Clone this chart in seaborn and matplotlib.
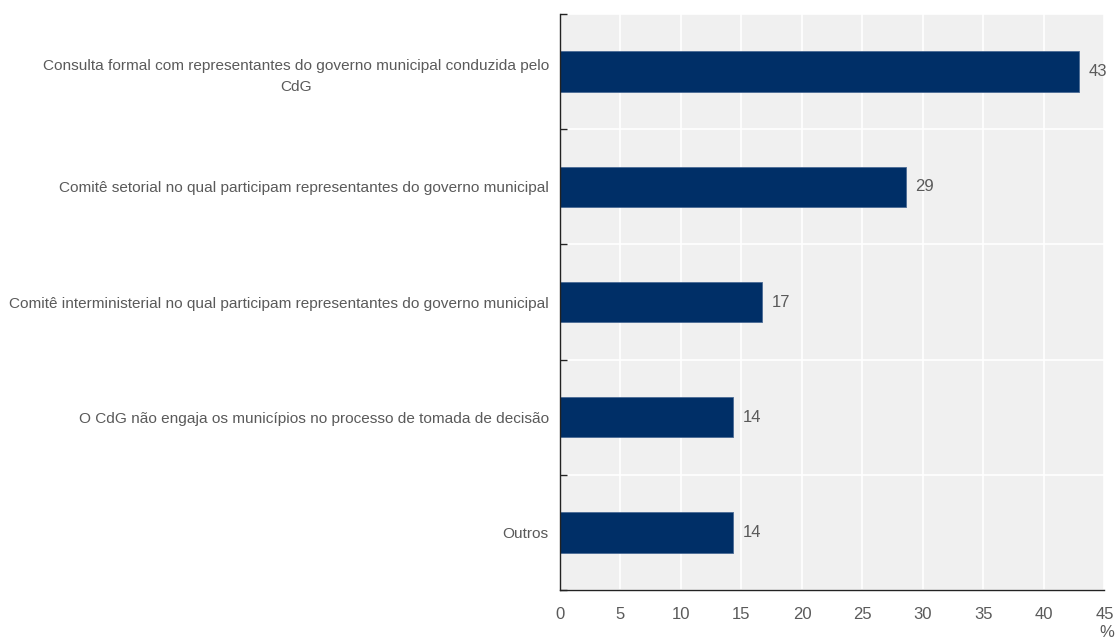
import matplotlib
matplotlib.use("Agg")
import matplotlib.pyplot as plt
from matplotlib.ticker import FixedLocator
import seaborn as sns
import pandas as pd

categories = [
    "Consulta formal com representantes do governo municipal conduzida pelo\nCdG",
    "Comitê setorial no qual participam representantes do governo municipal",
    "Comitê interministerial no qual participam representantes do governo municipal",
    "O CdG não engaja os municípios no processo de tomada de decisão",
    "Outros",
]
values = [42.86, 28.57, 16.67, 14.29, 14.29]
x_ticks = [0, 5, 10, 15, 20, 25, 30, 35, 40, 45]

df = pd.DataFrame({"categoria": categories, "valor": values})

sns.set_theme(style="white")
plt.rcParams["font.family"] = ["Liberation Sans Narrow", "Liberation Sans", "DejaVu Sans"]

text_color = "#5a5a5a"
bar_color = "#002F67"

fig = plt.figure(figsize=(11.17, 6.43), dpi=100)
ax = fig.add_axes([0.5013, 0.0824, 0.4875, 0.8958])
ax.set_facecolor("#f0f0f0")

sns.barplot(data=df, y="categoria", x="valor", orient="h", color=bar_color,
            width=0.35, saturation=1, ax=ax, edgecolor="#4a6a95", linewidth=0.6)

ax.set_xlim(0, 45)
ax.set_ylim(len(categories) - 0.5, -0.5)
ax.set_xticks(x_ticks)
ax.set_xticklabels([str(t) for t in x_ticks])
ax.yaxis.set_minor_locator(FixedLocator([i - 0.5 for i in range(len(categories) + 1)]))

ax.set_axisbelow(True)
ax.grid(True, axis="x", which="major", color="white", linewidth=1.2)
ax.grid(True, axis="y", which="minor", color="white", linewidth=1.2)

for side in ["top", "right"]:
    ax.spines[side].set_visible(False)
for side in ["left", "bottom"]:
    ax.spines[side].set_color("#222222")
    ax.spines[side].set_linewidth(1.0)

ax.tick_params(axis="x", which="major", direction="in", length=5, width=1,
               color="#222222", labelsize=12, labelcolor=text_color, pad=12)
ax.tick_params(axis="y", which="major", length=0, labelsize=11.1,
               labelcolor=text_color, pad=8)
ax.tick_params(axis="y", which="minor", direction="in", length=5, width=1,
               color="#222222", left=True)
for lbl in ax.get_yticklabels():
    lbl.set_horizontalalignment("right")
    lbl.set_multialignment("center")
    lbl.set_linespacing(1.6)

ax.set_xlabel("")
ax.set_ylabel("")

for i, v in enumerate(values):
    ax.text(v + 0.8, i, f"{v:.0f}", va="center", ha="left",
            fontsize=12, color=text_color)

ax.text(1.005, -0.073, "%", transform=ax.transAxes, ha="center", va="center",
        fontsize=12, color=text_color, clip_on=False)

fig.savefig("out.png", dpi=100)
